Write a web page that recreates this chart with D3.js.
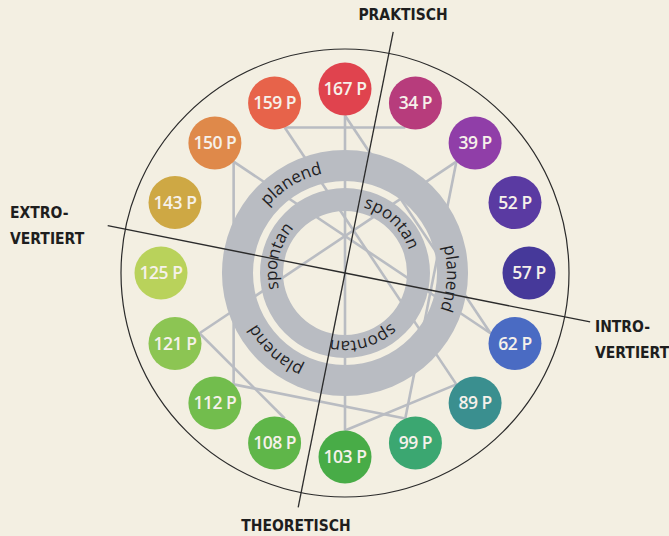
<!DOCTYPE html>
<html>
<head>
<meta charset="utf-8">
<script src="https://cdn.jsdelivr.net/npm/d3@7"></script>
<style>
html, body { margin: 0; padding: 0; background: #f3efe2; }
svg { display: block; }
</style>
</head>
<body>
<div id="chart"></div>
<script>
// 16 Typen im Kreis, im Uhrzeigersinn ab oben
const types = ["167 P", "34 P", "39 P", "52 P", "57 P", "62 P", "89 P", "99 P",
               "103 P", "108 P", "112 P", "121 P", "125 P", "143 P", "150 P", "159 P"];
const typeColors = ["#e0434e", "#b73c7c", "#903ea8", "#5a3aa2", "#46399a", "#4a6bc3", "#3a8f8f", "#3ba771",
                    "#48ac47", "#5fb649", "#72bd4d", "#8cc553", "#b9d25b", "#cea844", "#df894a", "#e7634a"];
// Verbindungen zwischen den Typen
const links = [
    ["167 P", "103 P"], ["167 P", "62 P"], ["159 P", "34 P"], ["159 P", "89 P"],
    ["150 P", "112 P"], ["150 P", "62 P"], ["39 P", "121 P"], ["39 P", "99 P"],
    ["121 P", "108 P"], ["112 P", "99 P"], ["89 P", "103 P"]
];
const outerRingLabels = ["planend", "planend", "planend"];
const innerRingLabels = ["spontan", "spontan", "spontan"];
const axisLabels = [["PRAKTISCH"], ["INTRO-", "VERTIERT"], ["THEORETISCH"], ["EXTRO-", "VERTIERT"]];

const width = 669, height = 536;
const cx = 345, cy = 273;
const bubbleRadius = 184, bubbleSize = 26.5;
const ringGray = "#b9bcc2";

const svg = d3.select("#chart").append("svg")
    .attr("width", width)
    .attr("height", height);

svg.append("rect").attr("width", width).attr("height", height).attr("fill", "#f3efe2");

const g = svg.append("g").attr("transform", "translate(" + cx + "," + cy + ")");

const angle = d3.scaleBand().domain(types).range([0, 2 * Math.PI]);
const color = d3.scaleOrdinal().domain(types).range(typeColors);

function polar(a, r) {
    return [r * Math.sin(a), -r * Math.cos(a)];
}

// outer thin circle
g.append("circle").attr("r", 224)
    .attr("fill", "none").attr("stroke", "#2b2b2b").attr("stroke-width", 1.2);

// gray link lines (behind the rings)
const linkR = bubbleRadius - bubbleSize;
g.append("g").selectAll("line")
    .data(links)
    .join("line")
    .attr("x1", d => polar(angle(d[0]), linkR)[0])
    .attr("y1", d => polar(angle(d[0]), linkR)[1])
    .attr("x2", d => polar(angle(d[1]), linkR)[0])
    .attr("y2", d => polar(angle(d[1]), linkR)[1])
    .attr("stroke", ringGray)
    .attr("stroke-width", 2.6);

// rings
const ringArc = d3.arc().startAngle(0).endAngle(2 * Math.PI);
g.append("path").attr("d", ringArc({ innerRadius: 92, outerRadius: 123 })).attr("fill", ringGray);
g.append("path").attr("d", ringArc({ innerRadius: 62, outerRadius: 85 })).attr("fill", ringGray);

// circular text paths (clockwise, starting at top)
function circlePath(r) {
    return "M0," + (-r) + " A" + r + "," + r + " 0 1,1 0," + r + " A" + r + "," + r + " 0 1,1 0," + (-r);
}
const defs = svg.append("defs");
defs.append("path").attr("id", "outerPath").attr("d", circlePath(102));
defs.append("path").attr("id", "innerPath").attr("d", circlePath(68));

const outerAngles = [-31, 93, 222];
const innerAngles = [43, 165, 284];

function ringText(labels, angles, pathId) {
    g.append("g").selectAll("text")
        .data(labels)
        .join("text")
        .attr("font-family", "'Open Sans', 'Noto Sans', sans-serif")
        .attr("font-size", 17)
        .attr("font-weight", 500)
        .attr("fill", "#1f1f24")
        .append("textPath")
        .attr("href", "#" + pathId)
        .attr("startOffset", (d, i) => (((angles[i] + 360) % 360) / 360 * 100) + "%")
        .attr("text-anchor", "middle")
        .text(d => d);
}
ringText(outerRingLabels, outerAngles, "outerPath");
ringText(innerRingLabels, innerAngles, "innerPath");

// axis lines, rotated
const tilt = 11.3 * Math.PI / 180;
const axisLen = [246, 250, 239, 242];
const axisDirs = [0, Math.PI / 2, Math.PI, 3 * Math.PI / 2];
g.append("g").selectAll("line")
    .data(axisDirs)
    .join("line")
    .attr("x1", 0).attr("y1", 0)
    .attr("x2", (d, i) => polar(d + tilt, axisLen[i])[0])
    .attr("y2", (d, i) => polar(d + tilt, axisLen[i])[1])
    .attr("stroke", "#2b2b2b")
    .attr("stroke-width", 1.3);

// bubbles
const bubbles = g.append("g").selectAll("g")
    .data(types)
    .join("g")
    .attr("transform", d => "translate(" + polar(angle(d), bubbleRadius) + ")");

bubbles.append("circle")
    .attr("r", bubbleSize)
    .attr("fill", d => color(d));

bubbles.append("text")
    .attr("text-anchor", "middle")
    .attr("dy", "0.36em")
    .attr("font-family", "'Open Sans', 'Noto Sans', sans-serif")
    .attr("font-weight", 600)
    .attr("font-size", 17.5)
    .attr("letter-spacing", -0.5)
    .attr("fill", "#f6f1ea")
    .text(d => d);

// axis labels
const labelPos = [
    { x: 403, y: 20, anchor: "middle" },
    { x: 595, y: 332, anchor: "start" },
    { x: 296, y: 531, anchor: "middle" },
    { x: 10, y: 218, anchor: "start" }
];
svg.append("g").selectAll("text")
    .data(axisLabels)
    .join("text")
    .attr("x", (d, i) => labelPos[i].x)
    .attr("y", (d, i) => labelPos[i].y)
    .attr("text-anchor", (d, i) => labelPos[i].anchor)
    .attr("font-family", "'DejaVu Sans Condensed', 'Liberation Sans Narrow', 'Roboto Condensed', Roboto, sans-serif")
    .attr("font-weight", "bold")
    .attr("font-size", 15.5)
    .attr("fill", "#1e1e1e")
    .selectAll("tspan")
    .data(d => d)
    .join("tspan")
    .attr("x", function () { return d3.select(this.parentNode).attr("x"); })
    .attr("dy", (d, i) => i === 0 ? 0 : 26)
    .text(d => d);
</script>
</body>
</html>
